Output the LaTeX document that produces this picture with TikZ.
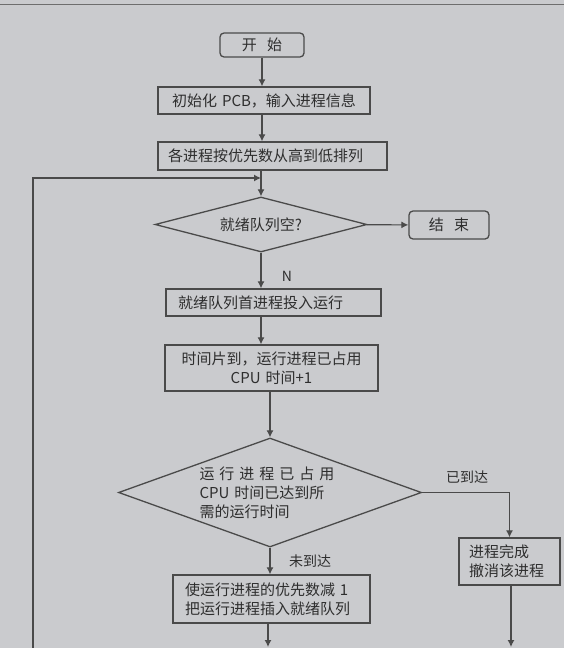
\documentclass[tikz,border=0pt]{standalone}
\usepackage{fontspec}
\setmainfont{Noto Sans CJK SC}
\usetikzlibrary{arrows.meta,positioning,shapes.geometric}
\definecolor{bggray}{HTML}{CACBCE}
\definecolor{linegray}{HTML}{4A4A4A}
\definecolor{textgray}{HTML}{2E2E2E}
\tikzset{
  box/.style={draw=linegray,line width=1.3pt,text=textgray,inner ysep=2pt,
    font=\fontsize{15}{19}\selectfont},
  startend/.style={box,rounded corners=4pt},
  decision/.style={box,shape=diamond,inner sep=0pt},
  flow/.style={-{Latex[length=7pt,width=7pt]},line width=1.2pt,draw=linegray},
  lbl/.style={text=textgray,font=\fontsize{14}{17}\selectfont,inner sep=1pt}
}

\begin{document}
\begin{tikzpicture}[x=1pt,y=-1pt]
  \useasboundingbox (0,0) rectangle (564,648);
  \fill[bggray] (0,0) rectangle (564,648);
  \draw[linegray!80,line width=1pt] (0,4) -- (564,4);

  % main column
  \node[startend,minimum width=84pt,minimum height=24pt] (start) at (262,45) {开\hspace{0.7em}始};
  \node[box,text width=192pt,inner xsep=10pt,align=center,minimum height=27pt] (init) at (264,100.5) {初始化 PCB，输入进程信息};
  \node[box,text width=209pt,inner xsep=10pt,align=left,minimum height=28pt] (sort) at (272.5,156) {各进程按优先数从高到低排列};
  \node[decision,aspect=3.85,minimum width=212pt,minimum height=55pt] (empty) at (261,224.5) {就绪队列空?};
  \node[startend,minimum width=80pt,minimum height=28pt] (end) at (449,225) {结\hspace{0.7em}束};
  \node[box,text width=191pt,inner xsep=12pt,align=left,minimum height=27pt] (run) at (273.5,302.5) {就绪队列首进程投入运行};
  \node[box,text width=193pt,inner xsep=10pt,align=center,minimum height=46pt] (tick) at (271.5,368) {时间片到，运行进程已占用\\CPU 时间+1};
  \node[decision,aspect=2.78,text width=141pt,align=left,minimum width=303pt,minimum height=109pt] (check) at (270,492.5)
    {\makebox[141pt][s]{运 行 进 程 已 占 用}\\CPU 时间已达到所\\需的运行时间};
  \node[box,text width=81pt,inner xsep=10pt,align=left,minimum height=47pt] (done) at (509.5,561.5) {进程完成\\撤消该进程};
  \node[box,text width=173pt,inner xsep=12pt,align=left,minimum height=48pt] (dec) at (271.5,599) {使运行进程的优先数减 1\\把运行进程插入就绪队列};

  % labels
  \node[lbl] (nlab) at (287,276) {N};
  \node[lbl] (nolab) at (310,561) {未到达};
  \node[lbl] (yeslab) at (467,477) {已到达};

  % loose ends
  \coordinate (loopin) at (261,178);
  \coordinate (loopout) at (33,648);
  \coordinate (decend) at (268,647);
  \coordinate (doneend) at (511,647);

  % arrows
  \draw[flow] (start) -- (start |- init.north);
  \draw[flow] (init.south -| start) -- (sort.north -| start);
  \draw[flow] (sort.south -| empty) -- (empty.north);
  \draw[flow] (loopout) |- (loopin);
  \draw[flow] (empty) -- (end);
  \draw[flow] (empty) -- (empty |- run.north);
  \draw[flow] (run.south -| empty) -- (tick.north -| empty);
  \draw[flow] (tick.south -| check) -- (check.north);
  \draw[flow] (check.south) -- (check.south |- dec.north);
  \draw[flow] (check) -| (done);
  \draw[flow] (dec.south -| decend) -- (decend);
  \draw[flow] (done.south -| doneend) -- (doneend);
\end{tikzpicture}
\end{document}
